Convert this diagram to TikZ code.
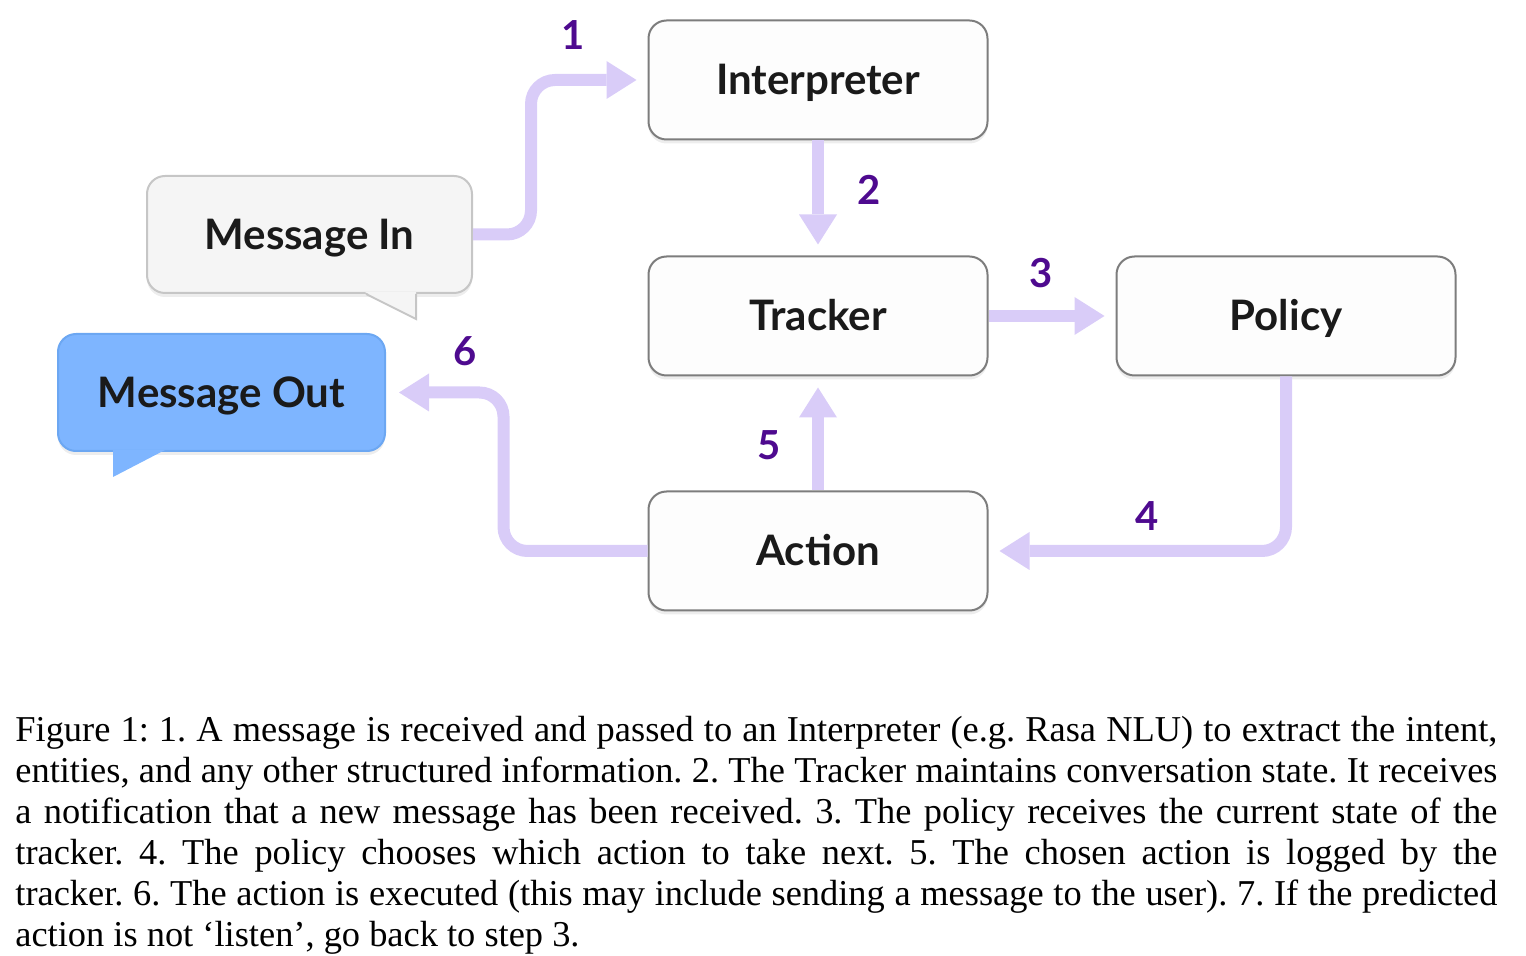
\documentclass[tikz,border=0pt]{standalone}
\usepackage{fontspec}
\setmainfont{Liberation Serif}
\newfontfamily\diagfont{Lato}
\usetikzlibrary{arrows.meta,calc,shadows}

\begin{document}
\begin{tikzpicture}[x=0.5pt, y=-0.5pt]

% --- colors ---
\definecolor{cFlow} {HTML}{D9CCF8}
\definecolor{cStep} {HTML}{4E0A8F}
\definecolor{cInk}  {HTML}{1A1A1A}
\definecolor{cEdge} {HTML}{7D7D7D}
\definecolor{cBox}  {HTML}{FDFDFD}
\definecolor{cInBg} {HTML}{F5F5F5}
\definecolor{cInEdge}{HTML}{C6C6C6}
\definecolor{cOutBg}{HTML}{7EB5FF}
\definecolor{cOutEdge}{HTML}{6CA7F2}

% --- styles ---
\tikzset{
  box/.style={draw=cEdge, line width=1pt, fill=cBox, rounded corners=9pt,
    minimum width=169.5pt, minimum height=59.5pt, inner sep=0pt, text=cInk,
    text height=15pt, text depth=0pt,
    font=\diagfont\bfseries\fontsize{21}{25}\selectfont,
    drop shadow={shadow xshift=0pt, shadow yshift=-2pt, opacity=0.07, fill=black}},
  bubble/.style={box, minimum width=162.5pt, minimum height=58.5pt},
  flow/.style={draw=cFlow, line width=6pt, rounded corners=12pt,
    -{Triangle[length=15pt, width=19pt, line width=0pt]}, shorten >=5.5pt},
  steplabel/.style={text=cStep, font=\diagfont\bfseries\fontsize{20}{23}\selectfont,
    inner sep=0pt},
  caption/.style={anchor=north west, inner sep=0pt, text width=741pt, align=justify,
    font=\rmfamily\fontsize{18.2}{20.5}\selectfont\frenchspacing}
}

\useasboundingbox (0,0) rectangle (1526,956);

% --- boxes ---
\node[box] (interp) at (818,80)  {Interpreter};
\node[box] (tracker) at (818,316) {Tracker};
\node[box] (policy) at (1286,316) {Policy};
\node[box] (action) at (818,551) {Action};

% --- speech bubbles ---
\node[bubble, draw=cInEdge, fill=cInBg] (msgin) at (309.5,234.5) {Message In};
\fill[cInBg] ($(msgin.south east)+(-108,-2)$) -- ($(msgin.south east)+(-57,-2)$)
  -- ($(msgin.south east)+(-57,25)$) -- cycle;
\draw[cInEdge, line width=1pt] ($(msgin.south east)+(-107,0)$)
  -- ($(msgin.south east)+(-57,25)$) -- ($(msgin.south east)+(-57,0)$);

\node[bubble, draw=cOutEdge, fill=cOutBg, minimum width=163.5pt] (msgout) at (221.5,392.5) {Message Out};
\fill[cOutBg] ($(msgout.south west)+(56,-2)$) -- ($(msgout.south west)+(108,-2)$)
  -- ($(msgout.south west)+(56,25)$) -- cycle;

% --- flows ---
\draw[flow] (msgin.east) -- ++(58,0) |- (interp.west);
\draw[flow] (interp.south) -- (tracker.north);
\draw[flow] (tracker.east) -- (policy.west);
\draw[flow] (policy.south) |- (action.east);
\draw[flow] (action.north) -- (tracker.south);
\draw[flow, shorten >=6.5pt] (action.west) -- ++(-144,0) |- (msgout.east);

% --- step numbers ---
\foreach \n/\px/\py in {1/573/35, 2/869/190, 3/1041/273, 4/1147/516, 5/769/445, 6/465/351}{
  \node[steplabel] (num\n) at (\px,\py) {\n};
}

% --- caption ---
\node[caption] (cap) at (15,716) {Figure 1: 1. A message is received and passed to an Interpreter (e.g.\ Rasa NLU) to extract the intent,\linebreak
entities, and any other structured information. 2. The Tracker maintains conversation state. It receives\linebreak
a notification that a new message has been received. 3. The policy receives the current state of the\linebreak
tracker.  4.  The policy chooses which action to take next.  5.  The chosen action is logged by the\linebreak
tracker. 6. The action is executed (this may include sending a message to the user). 7. If the predicted\linebreak
action is not ‘listen’, go back to step 3.};

\end{tikzpicture}
\end{document}
